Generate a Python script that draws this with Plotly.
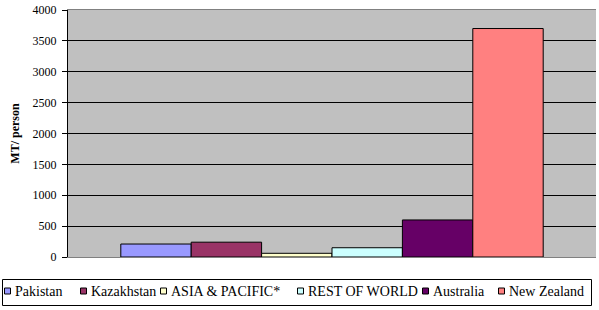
import plotly.graph_objects as go

series = ["Pakistan", "Kazakhstan", "ASIA & PACIFIC*", "REST OF WORLD", "Australia", "New Zealand"]
values = [210, 240, 60, 150, 600, 3700]
colors = ["#9999FF", "#993366", "#FFFFCC", "#CCFFFF", "#660066", "#FF8080"]
category = [""]

W, H = 599, 310
L, R, T, B = 68, 3, 10, 53
PW, PH = W - L - R, H - T - B

def px(x):
    return (x - L) / PW

def py(y):
    return (H - B - y) / PH

font = "'Liberation Serif', 'Times New Roman', 'DejaVu Serif', serif"

fig = go.Figure()
for name, v, c in zip(series, values, colors):
    fig.add_trace(go.Bar(x=category, y=[v], name=name,
                         marker=dict(color=c, line=dict(color="black", width=1))))

# manual legend (Excel style, single row)
legend_sq_x = [4, 80, 160, 297, 422, 498]
legend_cy = 291
shapes = [dict(type="rect", xref="paper", yref="paper",
               x0=px(2.5), x1=px(591.5), y0=py(279.5), y1=py(305.5),
               line=dict(color="black", width=1), fillcolor="white", layer="above")]
annotations = []
for name, c, sx in zip(series, colors, legend_sq_x):
    shapes.append(dict(type="rect", xref="paper", yref="paper",
                       x0=px(sx + 0.5), x1=px(sx + 6.5), y0=py(legend_cy + 3), y1=py(legend_cy - 3),
                       line=dict(color="black", width=1), fillcolor=c, layer="above"))
    annotations.append(dict(text=name, xref="paper", yref="paper", x=px(sx + 9), y=py(legend_cy),
                            xanchor="left", yanchor="middle", showarrow=False,
                            font=dict(family=font, size=14, color="black")))

fig.update_layout(
    width=W, height=H,
    margin=dict(l=L, r=R, t=T, b=B, autoexpand=False),
    barmode="group", bargap=0.2, bargroupgap=0,
    plot_bgcolor="#C0C0C0", paper_bgcolor="white",
    font=dict(family=font, size=12, color="black"),
    showlegend=False,
    shapes=shapes, annotations=annotations,
    xaxis=dict(showticklabels=False, ticks="", showgrid=False, zeroline=False,
               showline=True, linecolor="#808080", linewidth=1, mirror=True),
    yaxis=dict(range=[0, 4000], dtick=500, tickmode="linear", showgrid=True,
               gridcolor="#000000", gridwidth=1, zeroline=False,
               ticks="outside", ticklen=5, tickcolor="black",
               showline=True, linecolor="black", linewidth=1,
               ticklabelstandoff=3,
               title=dict(text="<b>MT/ person</b>", font=dict(family=font, size=12), standoff=10),
               tickfont=dict(family=font, size=12)),
)
fig.write_html("out.html")
